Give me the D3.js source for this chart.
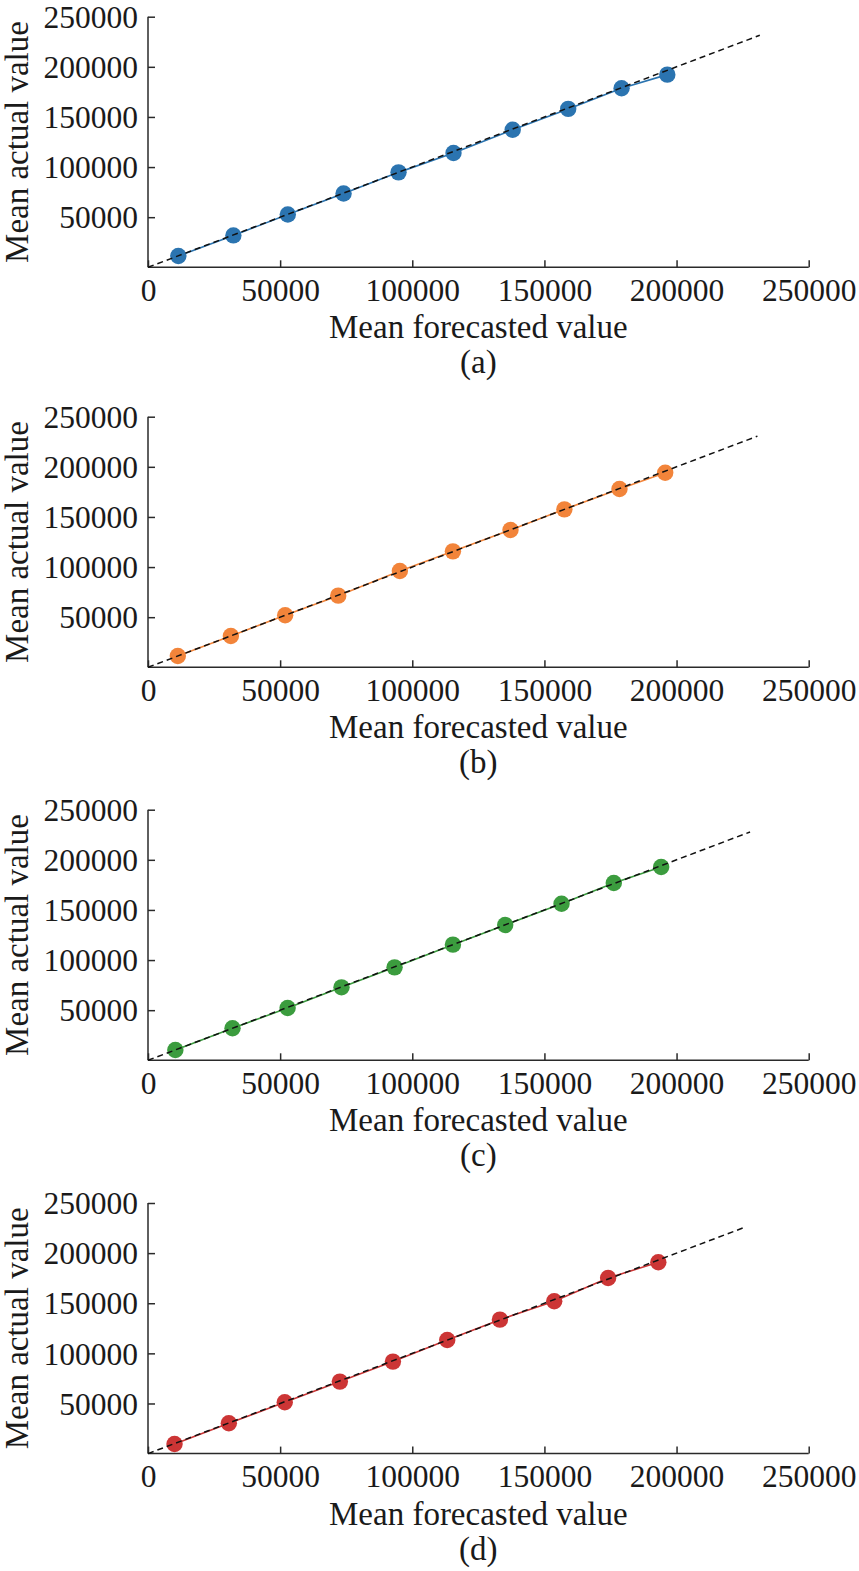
<!DOCTYPE html>
<html>
<head>
<meta charset="utf-8">
<script src="https://cdn.jsdelivr.net/npm/d3@7/dist/d3.min.js"></script>
<style>
  html, body { margin: 0; padding: 0; background: #fff; }
  svg { display: block; }
  text { font-family: "Liberation Serif", "Times New Roman", serif; fill: #1a1a1a; }
</style>
</head>
<body>
<script>
// ---- data ----
const panelLabels = ["(a)", "(b)", "(c)", "(d)"];
const seriesColors = ["#2b74b0", "#f2843a", "#3b9c3e", "#cc3535"];
const xTicks = [0, 50000, 100000, 150000, 200000, 250000];
const yTicks = [50000, 100000, 150000, 200000, 250000];
const xLabel = "Mean forecasted value";
const yLabel = "Mean actual value";

const forecastA = [11480, 32300, 52900, 74000, 94800, 115600, 138000, 159000, 179200, 196500];
const actualA   = [11230, 31800, 52700, 73600, 94700, 114000, 137200, 158000, 178600, 192200];
const forecastB = [11280, 31360, 51900, 71980, 95300, 115380, 137160, 157560, 178400, 195700];
const actualB   = [11300, 31250, 51860, 71480, 96080, 115690, 136970, 157580, 177860, 194150];
const forecastC = [10350, 31980, 52830, 73220, 93300, 115380, 135160, 156480, 176250, 194170];
const actualC   = [10300, 31910, 52190, 72800, 92750, 115360, 134970, 156250, 176860, 192820];
const forecastD = [10040, 30590, 51750, 72600, 92680, 113230, 133160, 153710, 174100, 193100];
const actualD   = [ 9640, 30250, 51200, 71810, 91760, 113370, 133640, 151930, 175200, 190820];
const diagonalEnd = [231500, 230600, 227800, 225800];

const forecasts = [forecastA, forecastB, forecastC, forecastD];
const actuals = [actualA, actualB, actualC, actualD];

// ---- layout ----
const W = 859, H = 1571;
const panelTops = [16.7, 416.7, 809.7, 1203];
const plotH = 250.6;
const plotLeft = 148, plotRight = 808.7;
const tickFont = 31.5;
const labelFont = 33;

const svg = d3.select("body").append("svg")
  .attr("width", W).attr("height", H)
  .attr("viewBox", `0 0 ${W} ${H}`);

const x = d3.scaleLinear().domain([0, 250000]).range([plotLeft, plotRight]);

panelLabels.forEach((lab, i) => {
  const top = panelTops[i], bottom = top + plotH;
  const y = d3.scaleLinear().domain([0, 250000]).range([bottom, top]);
  const g = svg.append("g");

  // axes
  const xAxis = g.append("g")
    .attr("transform", `translate(0,${bottom})`)
    .call(d3.axisBottom(x).tickValues(xTicks).tickSizeInner(-7).tickSizeOuter(0).tickPadding(0).tickFormat(d3.format("d")));
  const yAxis = g.append("g")
    .attr("transform", `translate(${plotLeft},0)`)
    .call(d3.axisLeft(y).tickValues(yTicks).tickSizeInner(-7).tickSizeOuter(0).tickPadding(0).tickFormat(d3.format("d")));

  [xAxis, yAxis].forEach(a => {
    a.select(".domain").attr("stroke", "#2a2a2a").attr("stroke-width", 1.5);
    a.selectAll(".tick line").attr("stroke", "#2a2a2a").attr("stroke-width", 1.5);
    a.selectAll(".tick text")
      .style("font-family", '"Liberation Serif", "Times New Roman", serif')
      .style("font-size", tickFont + "px")
      .attr("fill", "#1a1a1a");
  });
  xAxis.select(".domain").attr("d", `M${plotLeft},0H${plotRight}`);
  yAxis.select(".domain").attr("d", `M0,${y(0)}V${y(250000)}`);

  xAxis.selectAll(".tick text").attr("y", 33.4).attr("dy", null);
  yAxis.selectAll(".tick text").attr("x", -10).attr("dy", "0.34em");

  // series
  const pts = forecasts[i].map((f, k) => ({ f, a: actuals[i][k] }));
  g.append("path")
    .datum(pts)
    .attr("fill", "none")
    .attr("stroke", seriesColors[i])
    .attr("stroke-width", 1.6)
    .attr("d", d3.line().x(d => x(d.f)).y(d => y(d.a)));
  g.selectAll("circle.pt").data(pts).join("circle")
    .attr("class", "pt")
    .attr("cx", d => x(d.f)).attr("cy", d => y(d.a))
    .attr("r", 8.2)
    .attr("fill", seriesColors[i]);

  // identity dashed line
  g.append("path")
    .datum([0, diagonalEnd[i]])
    .attr("fill", "none")
    .attr("stroke", "#111")
    .attr("stroke-width", 1.5)
    .attr("stroke-dasharray", "6,4")
    .attr("d", d3.line().x(d => x(d)).y(d => y(d)));

  // labels
  g.append("text")
    .attr("x", (plotLeft + plotRight) / 2)
    .attr("y", bottom + 71)
    .attr("text-anchor", "middle")
    .style("font-size", labelFont + "px")
    .text(xLabel);
  g.append("text")
    .attr("transform", `translate(28,${(top + bottom) / 2}) rotate(-90)`)
    .attr("text-anchor", "middle")
    .style("font-size", labelFont + "px")
    .text(yLabel);
  g.append("text")
    .attr("x", (plotLeft + plotRight) / 2)
    .attr("y", bottom + 106)
    .attr("text-anchor", "middle")
    .style("font-size", labelFont + "px")
    .text(lab);
});
</script>
</body>
</html>
